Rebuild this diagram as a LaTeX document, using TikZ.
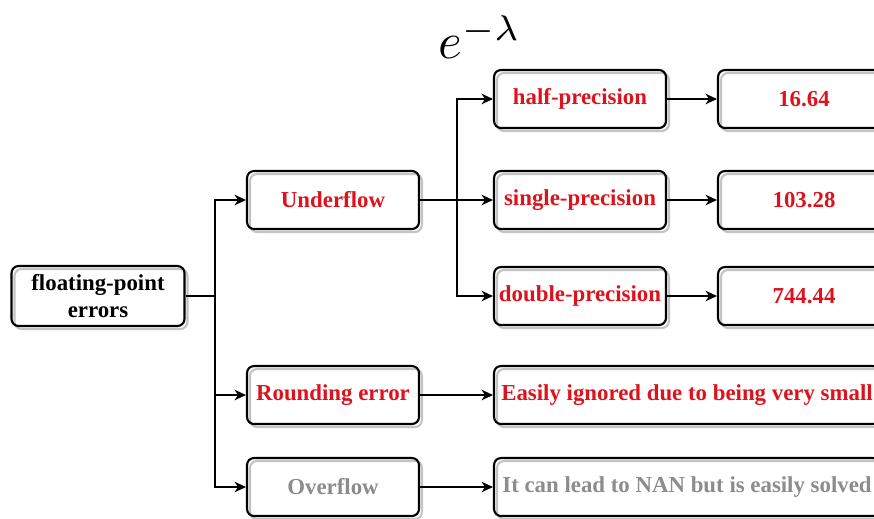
\documentclass[tikz,border=0pt]{standalone}
\usepackage{fontspec}
\setmainfont{Liberation Serif}
\usetikzlibrary{arrows.meta}

\definecolor{errred}{RGB}{222,18,28}
\definecolor{mutegray}{RGB}{140,140,140}
\definecolor{shade}{RGB}{195,195,195}

\begin{document}
\begin{tikzpicture}[x=0.02cm, y=-0.02cm,
  box/.style={draw, line width=1.2pt, rounded corners=4pt,
    minimum width=3.44cm, minimum height=1.16cm, inner sep=1pt,
    font=\fontsize{13}{15}\selectfont\bfseries, text=errred,
    preaction={draw=shade, line width=1.2pt,
      transform canvas={shift={(1.7pt,-1.7pt)}}}},
  widebox/.style={box, minimum width=7.72cm},
  arr/.style={-{Stealth[length=6.5pt, width=6pt, inset=2pt]}, line width=1.1pt}]
\useasboundingbox (0,0) rectangle (874,518);
\clip (0,0) rectangle (874,518);

\node[scale=2.9] (decay) at (480,37) {$e^{-\lambda}$};

% first level
\node[box, text=black, align=center, minimum width=3.46cm, minimum height=1.2cm] (root) at (98,296) {floating-point\\errors};
\node[box] (under) at (333,200) {Underflow};
\node[box] (round) at (333,395) {Rounding error};
\node[box, text=mutegray] (over) at (333,487) {Overflow};

% underflow limits per format
\node[box] (half) at (580,99) {half-precision};
\node[box] (single) at (580,200) {single-precision};
\node[box] (double) at (580,296) {double-precision};
\node[box] (v16) at (804,99) {16.64};
\node[box] (v103) at (804,200) {103.28};
\node[box] (v744) at (804,296) {744.44};

\node[widebox] (small) at (687,395) {Easily ignored due to being very small};
\node[widebox, text=mutegray] (nan) at (687,487) {It can lead to NAN but is easily solved};

\coordinate (fork) at (215,296);
\coordinate (prec) at (457,200);

\draw[line width=1.1pt] (root) -- (fork);
\draw[arr] (fork) |- (under);
\draw[arr] (fork) |- (round);
\draw[arr] (fork) |- (over);
\draw[arr] (under) -- (single);
\draw[arr] (prec) |- (half);
\draw[arr] (prec) |- (double);
\draw[arr] (half) -- (v16);
\draw[arr] (single) -- (v103);
\draw[arr] (double) -- (v744);
\draw[arr] (round) -- (small);
\draw[arr] (over) -- (nan);
\end{tikzpicture}
\end{document}
